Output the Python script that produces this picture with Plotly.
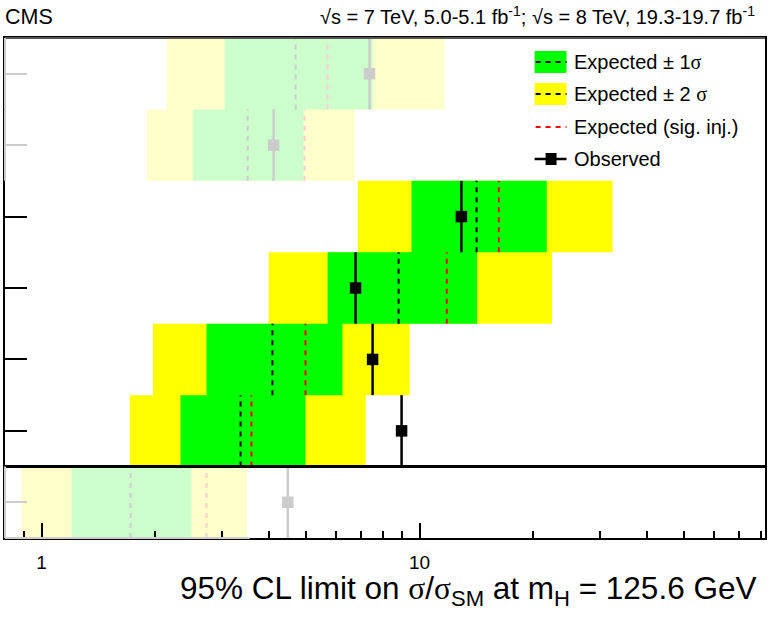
import math
import plotly.graph_objects as go

# ---- data (rows listed bottom -> top) ----
row_pos = [0, 1, 2, 3, 4, 5, 6]
faded = [True, False, False, False, False, True, True]
two_sigma_lo = [0.885, 1.71, 1.97, 3.99, 6.86, 1.90, 2.14]
one_sigma_lo = [1.20, 2.33, 2.73, 5.71, 9.52, 2.51, 3.05]
one_sigma_hi = [2.49, 4.99, 6.25, 14.2, 21.7, 4.93, 7.51]
two_sigma_hi = [3.49, 7.20, 9.41, 22.4, 32.4, 6.73, 11.65]
expected = [1.72, 3.36, 4.08, 8.80, 14.15, 3.51, 4.70]
expected_inj = [2.73, 3.59, 4.99, 11.8, 16.2, 4.96, 5.71]
observed = [4.48, 8.96, 7.51, 6.77, 12.9, 4.11, 7.37]

x_range = [0.8, 82]
major_ticks = [1, 10]
major_labels = ["1", "10"]
minor_ticks = [0.8, 0.9, 2, 3, 4, 5, 6, 7, 8, 9, 20, 30, 40, 50, 60, 70, 80]

REG = "Liberation Sans, Arial, sans-serif"
SERIF = "'Liberation Serif'"

COL = {
    False: dict(y2="#FFFF00", y1="#00FF00", exp="#000000", inj="#FF0000", obs="#000000"),
    True: dict(y2="#FFFFCC", y1="#CCFFCC", exp="#CCCCCC", inj="#FFCCCC", obs="#CCCCCC"),
}

fig = go.Figure()


def rects(lo, hi, idx):
    xs, ys = [], []
    for i in idx:
        y = row_pos[i]
        xs += [lo[i], hi[i], hi[i], lo[i], lo[i], None]
        ys += [y - 0.5, y - 0.5, y + 0.5, y + 0.5, y - 0.5, None]
    return xs, ys


def vlines(vals, idx):
    xs, ys = [], []
    for i in idx:
        y = row_pos[i]
        xs += [vals[i], vals[i], None]
        ys += [y - 0.5, y + 0.5, None]
    return xs, ys


for fd in (True, False):
    idx = [i for i in range(len(row_pos)) if faded[i] == fd]
    c = COL[fd]
    x, y = rects(two_sigma_lo, two_sigma_hi, idx)
    fig.add_trace(go.Scatter(x=x, y=y, mode="lines", fill="toself", fillcolor=c["y2"],
                             line=dict(width=0, color=c["y2"]), hoverinfo="skip", showlegend=False))
    x, y = rects(one_sigma_lo, one_sigma_hi, idx)
    fig.add_trace(go.Scatter(x=x, y=y, mode="lines", fill="toself", fillcolor=c["y1"],
                             line=dict(width=0, color=c["y1"]), hoverinfo="skip", showlegend=False))
    x, y = vlines(expected, idx)
    fig.add_trace(go.Scatter(x=x, y=y, mode="lines", line=dict(color=c["exp"], width=2, dash="5px,5px"),
                             hoverinfo="skip", showlegend=False))
    x, y = vlines(expected_inj, idx)
    fig.add_trace(go.Scatter(x=x, y=y, mode="lines", line=dict(color=c["inj"], width=2, dash="5px,5px"),
                             hoverinfo="skip", showlegend=False))
    x, y = vlines(observed, idx)
    fig.add_trace(go.Scatter(x=x, y=y, mode="lines", line=dict(color=c["obs"], width=2.5),
                             hoverinfo="skip", showlegend=False))
    fig.add_trace(go.Scatter(x=[observed[i] for i in idx], y=[row_pos[i] for i in idx], mode="markers",
                             marker=dict(symbol="square", size=11.5, color=c["obs"]),
                             hoverinfo="skip", showlegend=False))

# invisible trace to activate y2 (grey ticks of faded rows)
fig.add_trace(go.Scatter(x=[1], y=[0], yaxis="y2", mode="markers", marker=dict(opacity=0),
                         hoverinfo="skip", showlegend=False))

shapes = []
# separator between the bottom row and the rest
shapes.append(dict(type="line", xref="paper", x0=0, x1=1, yref="y", y0=0.5, y1=0.5,
                   line=dict(color="black", width=3), layer="above"))
# top frame in dark grey
shapes.append(dict(type="line", xref="paper", x0=0, x1=1, yref="paper", y0=1, y1=1,
                   line=dict(color="#555555", width=2), layer="above"))
# faded segments of the frame
for i in range(len(row_pos)):
    if faded[i]:
        shapes.append(dict(type="line", xref="paper", x0=0, x1=0, yref="y",
                           y0=row_pos[i] - 0.5, y1=row_pos[i] + 0.5,
                           line=dict(color="#CCCCCC", width=2), layer="above"))
shapes.append(dict(type="line", xref="paper", x0=0, x1=0.322, yref="paper", y0=0, y1=0,
                   line=dict(color="#CCCCCC", width=2), layer="above"))


def py(ypix):
    return (538 - ypix) / 500.0


def px(xpix):
    return (xpix - 5) / 762.0


sig = "<span style=\"font-family:%s\">σ</span>" % SERIF
leg = [
    ("#00FF00", "Expected ± 1" + sig, 62, "box", "black"),
    ("#FFFF00", "Expected ± 2 " + sig, 94, "box", "black"),
    (None, "Expected (sig. inj.)", 127, "dash", "#FF0000"),
    (None, "Observed", 159, "obs", "black"),
]
annotations = []
for fillc, text, yc, kind, lc in leg:
    if kind == "box":
        shapes.append(dict(type="rect", xref="paper", yref="paper", x0=px(536), x1=px(568),
                           y0=py(yc + 11), y1=py(yc - 11), fillcolor=fillc, line=dict(width=0)))
    if kind in ("box", "dash"):
        shapes.append(dict(type="line", xref="paper", yref="paper", x0=px(537), x1=px(568),
                           y0=py(yc), y1=py(yc), line=dict(color=lc, width=2, dash="5px,5px")))
    if kind == "obs":
        shapes.append(dict(type="line", xref="paper", yref="paper", x0=px(536), x1=px(568),
                           y0=py(yc), y1=py(yc), line=dict(color="black", width=2.5)))
        shapes.append(dict(type="rect", xref="paper", yref="paper", x0=px(547), x1=px(558),
                           y0=py(yc + 6), y1=py(yc - 6), fillcolor="black", line=dict(width=0)))
    annotations.append(dict(xref="paper", yref="paper", x=px(573), y=py(yc), xanchor="left",
                            yanchor="middle", text=text, showarrow=False,
                            font=dict(size=20, color="black", family=REG)))

annotations.append(dict(xref="paper", yref="paper", x=px(3), y=py(17), xanchor="left", yanchor="middle",
                        text="CMS", showarrow=False,
                        font=dict(size=21.5, color="black", family=REG)))
annotations.append(dict(xref="paper", yref="paper", x=px(759), y=py(16), xanchor="right", yanchor="middle",
                        text="√s = 7 TeV, 5.0-5.1 fb<sup>-1</sup>; √s = 8 TeV, 19.3-19.7 fb<sup>-1</sup>",
                        showarrow=False, font=dict(size=20, color="black", family=REG)))
annotations.append(dict(xref="paper", yref="paper", x=px(760), y=py(590), xanchor="right", yanchor="middle",
                        text="95% CL limit on " + sig + "/" + sig + "<sub>SM</sub> at m<sub>H</sub> = 125.6 GeV",
                        showarrow=False, font=dict(size=31.5, color="black", family=REG)))

fig.update_layout(
    width=770, height=620,
    margin=dict(l=5, r=3, t=38, b=82),
    paper_bgcolor="white", plot_bgcolor="white",
    showlegend=False,
    font=dict(family=REG, color="black"),
    xaxis=dict(type="log", range=[math.log10(x_range[0]), math.log10(x_range[1])],
               showline=True, linecolor="black", linewidth=2, mirror=True,
               showgrid=False, zeroline=False,
               tickmode="array", tickvals=major_ticks, ticktext=major_labels,
               ticks="inside", ticklen=15, tickwidth=1.5, tickcolor="black",
               tickfont=dict(size=19, family=REG, color="black"),
               ticklabelstandoff=6,
               minor=dict(tickmode="array", tickvals=minor_ticks, ticks="inside", ticklen=7,
                          tickwidth=1.5, tickcolor="black", showgrid=False)),
    yaxis=dict(range=[-0.5, 6.5], showline=True, linecolor="black", linewidth=2, mirror=True,
               showgrid=False, zeroline=False, tickmode="array",
               tickvals=[row_pos[i] for i in range(len(row_pos)) if not faded[i]],
               ticks="inside", ticklen=22, tickwidth=2, tickcolor="black", showticklabels=False),
    yaxis2=dict(range=[-0.5, 6.5], overlaying="y", side="left", showline=False,
                showgrid=False, zeroline=False, tickmode="array",
                tickvals=[row_pos[i] for i in range(len(row_pos)) if faded[i]],
                ticks="inside", ticklen=22, tickwidth=2, tickcolor="#CCCCCC", showticklabels=False),
    shapes=shapes,
    annotations=annotations,
)

fig.write_html("out.html", config={"displayModeBar": False},
               post_script="document.body.style.margin='0';")
